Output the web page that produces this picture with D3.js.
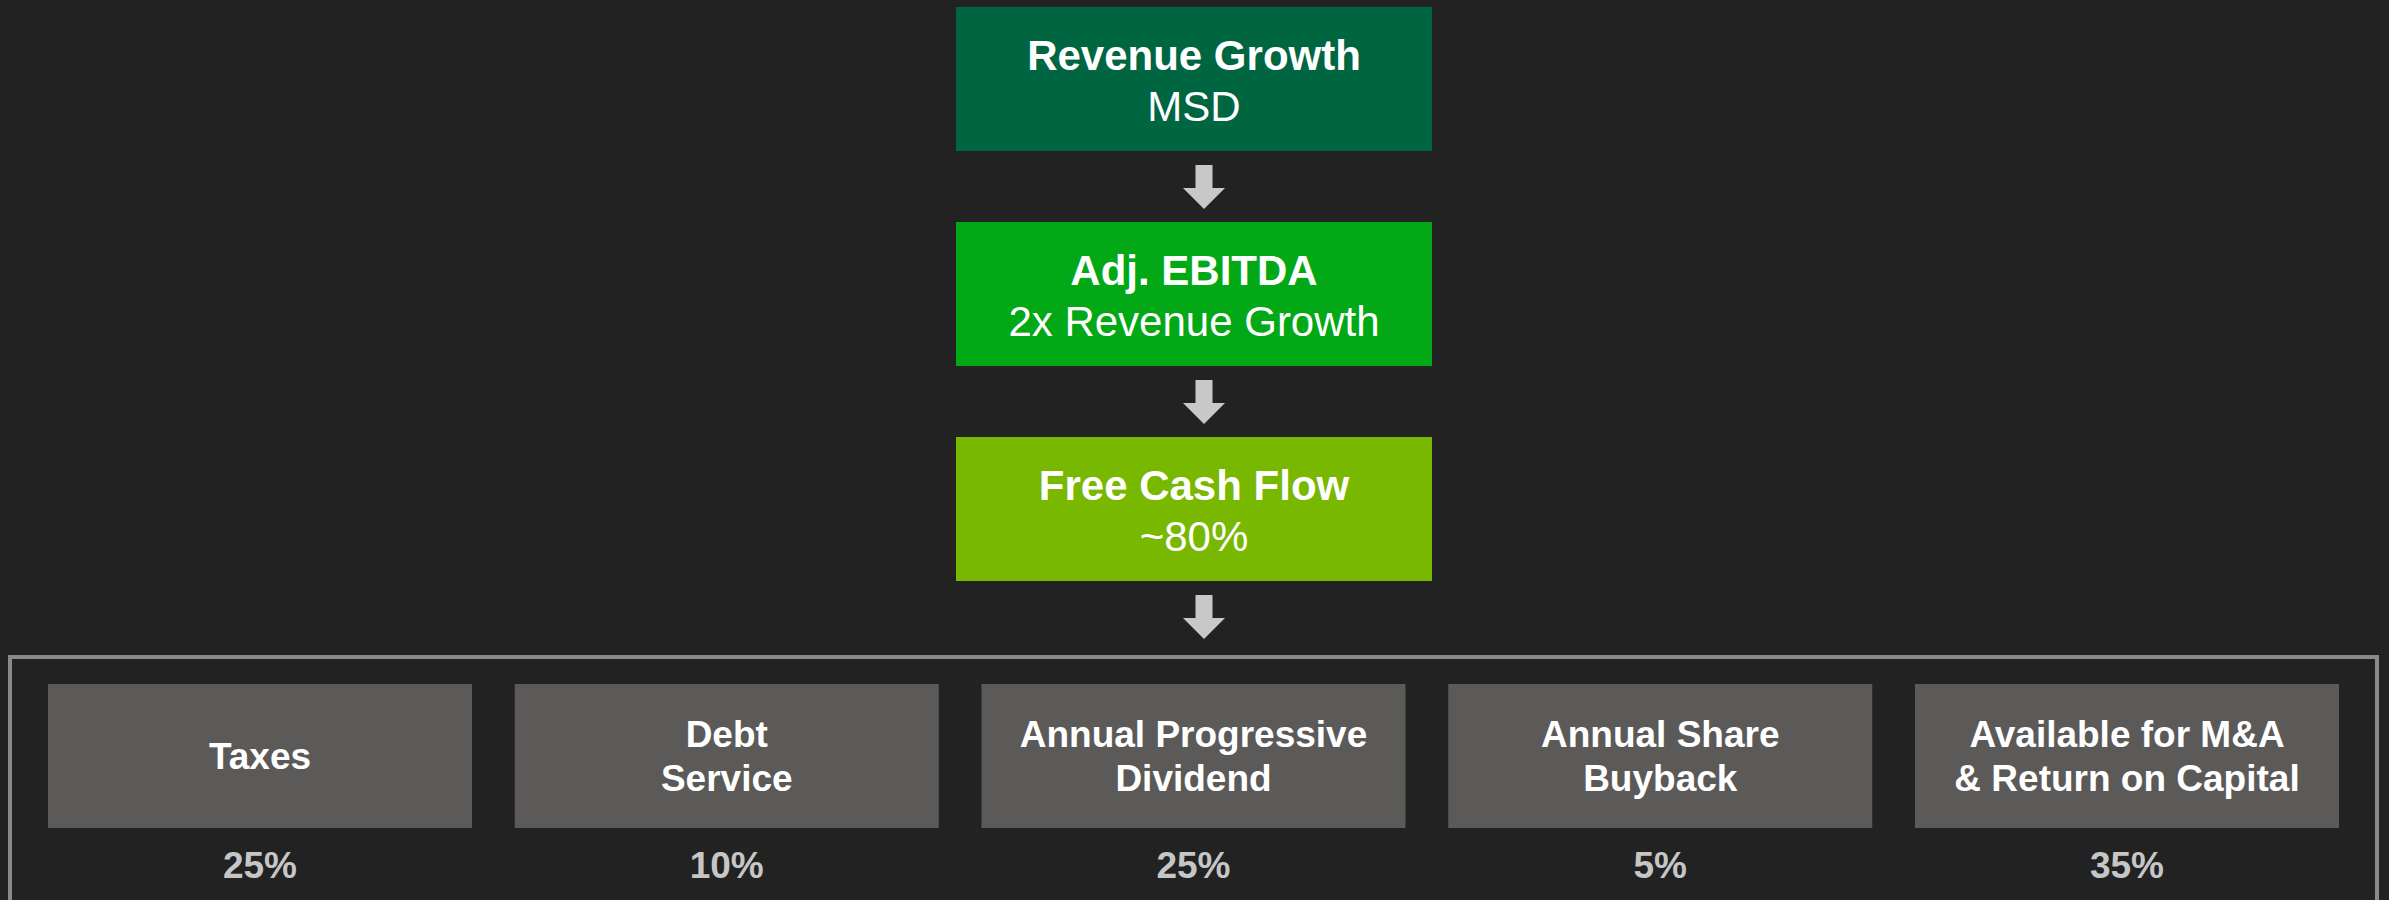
<!DOCTYPE html>
<html>
<head>
<meta charset="utf-8">
<script src="https://cdn.jsdelivr.net/npm/d3@7"></script>
<style>
  html, body { margin: 0; padding: 0; background: #222222; }
  svg { display: block; }
  text { font-family: "Liberation Sans", Arial, sans-serif; }
</style>
</head>
<body>
<div id="app"></div>
<script>
// flow stages (top)
const stages = ["Revenue Growth", "Adj. EBITDA", "Free Cash Flow"]
const stageValues = ["MSD", "2x Revenue Growth", "~80%"]
const stageColors = ["#006642", "#02a816", "#78b800"]

// capital allocation (bottom)
const uses = ["Taxes", "Debt Service", "Annual Progressive Dividend", "Annual Share Buyback", "Available for M&A & Return on Capital"]
const useLines = [["Taxes"], ["Debt", "Service"], ["Annual Progressive", "Dividend"], ["Annual Share", "Buyback"], ["Available for M&A", "& Return on Capital"]]
const usePct = [25, 10, 25, 5, 35]

const W = 2389, H = 900

const svg = d3.select("#app").append("svg")
  .attr("width", W)
  .attr("height", H)

svg.append("rect")
  .attr("width", W)
  .attr("height", H)
  .attr("fill", "#222222")

const fy = d3.scaleBand()
  .domain(stages)
  .range([7, 581])
  .paddingInner(0.3302)

const color = d3.scaleOrdinal()
  .domain(stages)
  .range(stageColors)

const boxX = 956, boxW = 476

let flow = svg.append("g")
flow.selectAll("rect")
  .data(stages)
  .join("rect")
    .attr("x", boxX)
    .attr("y", d => fy(d))
    .attr("width", boxW)
    .attr("height", fy.bandwidth())
    .attr("fill", d => color(d))

flow.selectAll("text.title")
  .data(stages)
  .join("text")
    .attr("class", "title")
    .attr("x", boxX + boxW / 2)
    .attr("y", d => fy(d) + fy.bandwidth() / 2 - 9)
    .attr("text-anchor", "middle")
    .attr("fill", "#ffffff")
    .attr("font-size", 42)
    .attr("font-weight", "bold")
    .text(d => d)

flow.selectAll("text.value")
  .data(stages)
  .join("text")
    .attr("class", "value")
    .attr("x", boxX + boxW / 2)
    .attr("y", d => fy(d) + fy.bandwidth() / 2 + 42)
    .attr("text-anchor", "middle")
    .attr("fill", "#ffffff")
    .attr("font-size", 42)
    .text((d, i) => stageValues[i])

// down arrows below each stage
const ax = 1204
function arrowPath(y) {
  return `M${ax - 8.5},${y}h17v23h12.5l-21,21l-21,-21h12.5z`
}
svg.append("g")
  .selectAll("path")
  .data(stages)
  .join("path")
    .attr("d", d => arrowPath(fy(d) + fy.bandwidth() + 14))
    .attr("fill", "#c8c8c8")

// frame round the allocation row
svg.append("rect")
  .attr("x", 10)
  .attr("y", 657)
  .attr("width", 2367)
  .attr("height", 300)
  .attr("fill", "none")
  .attr("stroke", "#8a8a8a")
  .attr("stroke-width", 4)

const fx = d3.scaleBand()
  .domain(uses)
  .range([48, 2339])
  .paddingInner(0.0916)

const bTop = 684, bH = 144

let alloc = svg.append("g")
alloc.selectAll("rect")
  .data(uses)
  .join("rect")
    .attr("x", d => fx(d))
    .attr("y", bTop)
    .attr("width", fx.bandwidth())
    .attr("height", bH)
    .attr("fill", "#5b5a58")

alloc.selectAll("text.label")
  .data(uses)
  .join("text")
    .attr("class", "label")
    .attr("text-anchor", "middle")
    .attr("fill", "#ffffff")
    .attr("font-size", 37)
    .attr("font-weight", "bold")
    .each(function(d, i) {
      const lines = useLines[i]
      const cx = fx(d) + fx.bandwidth() / 2
      const base = bTop + bH / 2 + 13 - (lines.length - 1) * 22
      d3.select(this).selectAll("tspan")
        .data(lines)
        .join("tspan")
          .attr("x", cx)
          .attr("y", (l, j) => base + j * 44)
          .text(l => l)
    })

alloc.selectAll("text.pct")
  .data(uses)
  .join("text")
    .attr("class", "pct")
    .attr("x", d => fx(d) + fx.bandwidth() / 2)
    .attr("y", 878)
    .attr("text-anchor", "middle")
    .attr("fill", "#c6c6c6")
    .attr("font-size", 37)
    .attr("font-weight", "bold")
    .text((d, i) => usePct[i] + "%")
</script>
</body>
</html>
